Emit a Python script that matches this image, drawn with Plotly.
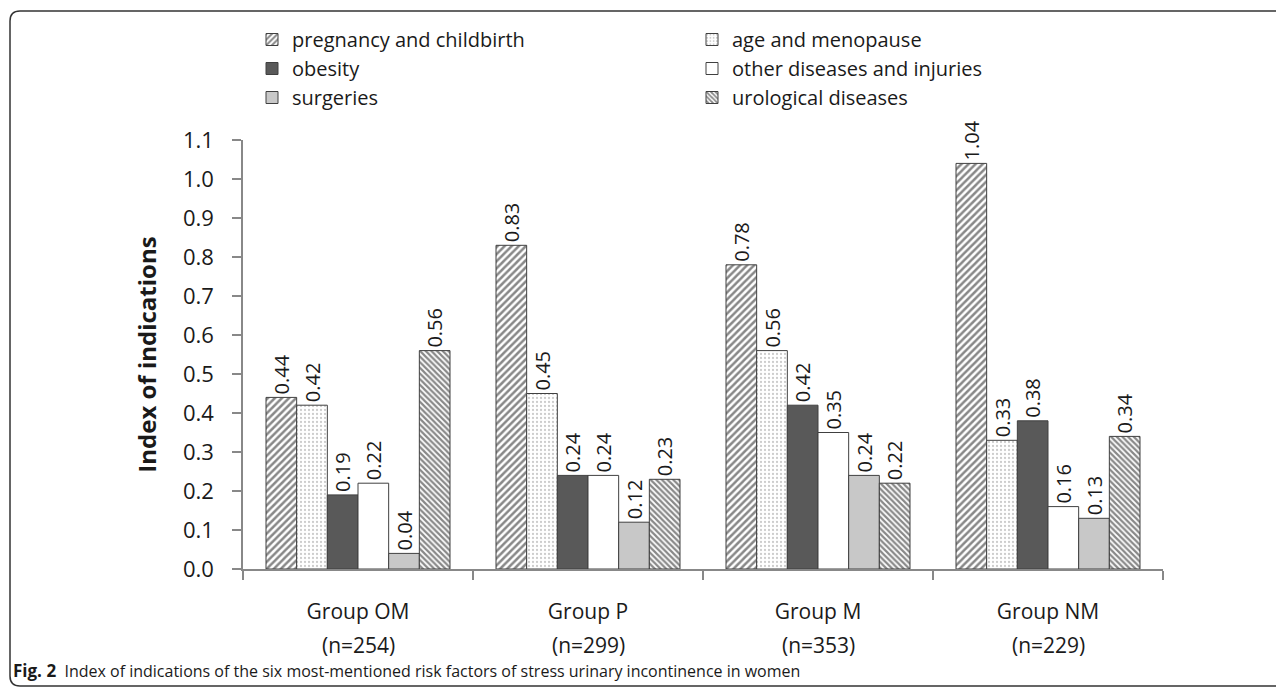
import plotly.graph_objects as go

groups = ["Group OM", "Group P", "Group M", "Group NM"]
group_n = ["(n=254)", "(n=299)", "(n=353)", "(n=229)"]
series_names = ["pregnancy and childbirth", "age and menopause", "obesity",
                "other diseases and injuries", "surgeries", "urological diseases"]
pregnancy = [0.44, 0.83, 0.78, 1.04]
age = [0.42, 0.45, 0.56, 0.33]
obesity = [0.19, 0.24, 0.42, 0.38]
other = [0.22, 0.24, 0.35, 0.16]
surgeries = [0.04, 0.12, 0.24, 0.13]
urological = [0.56, 0.23, 0.22, 0.34]
y_ticks = [0.0, 0.1, 0.2, 0.3, 0.4, 0.5, 0.6, 0.7, 0.8, 0.9, 1.0, 1.1]

values = [pregnancy, age, obesity, other, surgeries, urological]
styles = [
    dict(color="white", pattern=dict(shape="/", fgcolor="#111", bgcolor="white", size=5, solidity=0.5)),
    dict(color="white", pattern=dict(shape=".", fgcolor="#999", bgcolor="white", size=4, solidity=0.25)),
    dict(color="#595959"),
    dict(color="white"),
    dict(color="#c8c8c8"),
    dict(color="white", pattern=dict(shape="\\", fgcolor="#111", bgcolor="white", size=4, solidity=0.55)),
]

FONT = "Open Sans"
TXT = "#1a1a1a"

fig = go.Figure()
for name, vals, st in zip(series_names, values, styles):
    m = dict(st)
    m["line"] = dict(color="#404040", width=1)
    fig.add_trace(go.Bar(
        x=groups, y=vals, name=name, marker=m,
        text=[f"{v:.2f}" for v in vals], textposition="outside",
        textangle=-90, textfont=dict(family=FONT, size=20, color=TXT),
        constraintext="none", cliponaxis=False,
    ))

OFF = 8  # page body margin
W, H = 1284 - OFF, 689 - OFF
L, R, T, B = 243 - OFF, 121, 140 - OFF, 120
pw, ph = W - L - R, H - T - B


def px(x):
    return (x - OFF - L) / pw


def py(y):
    return (H - B - (y - OFF)) / ph


for g, n in zip(groups, group_n):
    fig.add_annotation(x=g, xref="x", y=py(645), yref="paper", text=n,
                       showarrow=False, font=dict(family=FONT, size=21, color=TXT),
                       yanchor="middle")

fig.add_annotation(x=px(11), xref="paper", y=py(670), yref="paper",
                   text="<b style='font-size:17px'>Fig. 2</b>  Index of indications of the six most-mentioned risk factors of stress urinary incontinence in women",
                   showarrow=False, xanchor="left", yanchor="middle",
                   font=dict(family=FONT, size=16, color=TXT))

x0, x1 = px(10), px(1300)
ytop, ybot = py(11), py(686)
rx, ry = 10 / pw, 10 / ph
path = (f"M {x1},{ytop} L {x0+rx},{ytop} Q {x0},{ytop} {x0},{ytop-ry} "
        f"L {x0},{ybot+ry} Q {x0},{ybot} {x0+rx},{ybot} L {x1},{ybot}")
fig.add_shape(type="path", path=path, xref="paper", yref="paper",
              line=dict(color="#333", width=1.5))

fig.update_layout(
    width=W, height=H, margin=dict(l=L, r=R, t=T, b=B, autoexpand=False),
    barmode="group", bargap=0.2, bargroupgap=0,
    plot_bgcolor="white", paper_bgcolor="white",
    font=dict(family=FONT, size=20, color=TXT),
    legend=dict(orientation="h", x=px(252), y=py(20), xanchor="left", yanchor="top",
                entrywidth=395, entrywidthmode="pixels", traceorder="normal",
                font=dict(family=FONT, size=20, color=TXT)),
    xaxis=dict(showline=True, linecolor="#888", linewidth=1.5, ticks="outside",
               tickson="boundaries", ticklen=9, tickcolor="#888", tickwidth=1.5,
               tickfont=dict(family=FONT, size=21, color=TXT), ticklabelstandoff=23,
               showgrid=False, zeroline=False),
    yaxis=dict(range=[0, 1.1], tickvals=y_ticks, tickformat=".1f",
               showline=True, linecolor="#888", linewidth=1.5, ticks="outside",
               ticklen=9, tickcolor="#888", tickwidth=1.5,
               tickfont=dict(family=FONT, size=22, color=TXT), ticklabelstandoff=14,
               showgrid=False, zeroline=False,
               title=dict(text="<b>Index of indications</b>", standoff=20,
                          font=dict(family=FONT, size=24, color=TXT))),
)

fig.write_html("out.html")
